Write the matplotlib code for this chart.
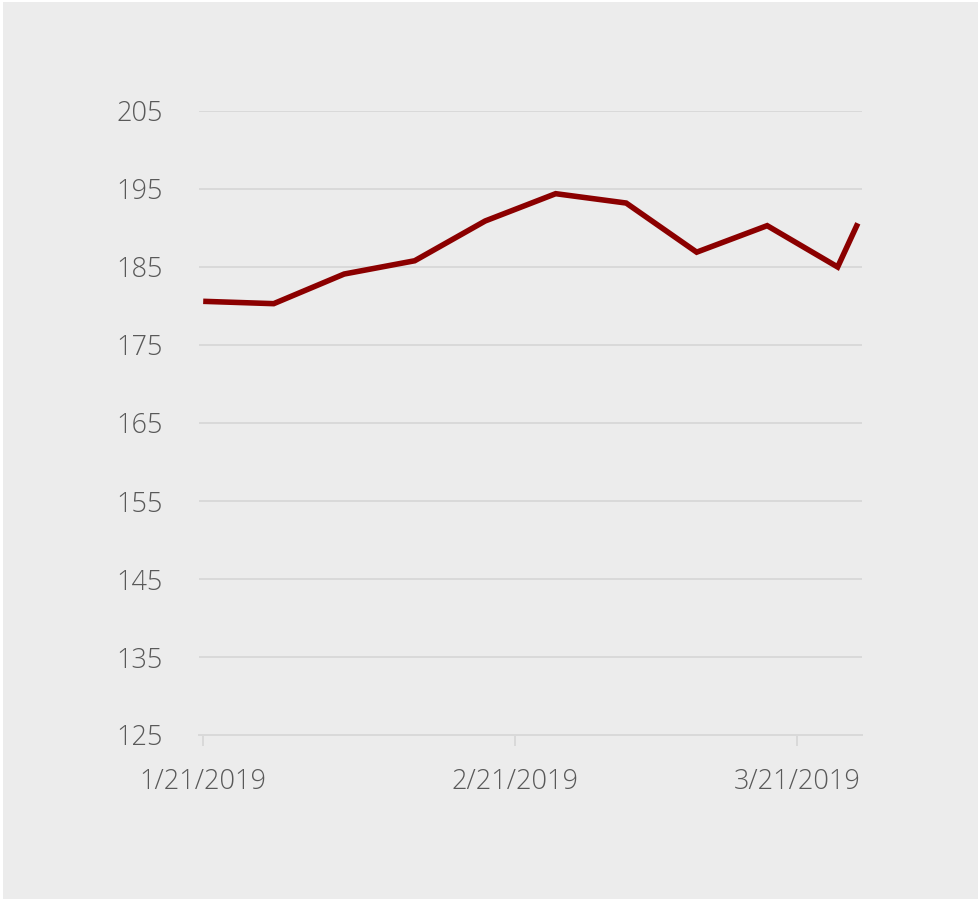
import matplotlib
matplotlib.use("Agg")
import matplotlib.pyplot as plt
import matplotlib.dates as mdates
from matplotlib.patches import Rectangle
import datetime as dt

# weekly values
dates = ["2019-01-21", "2019-01-28", "2019-02-04", "2019-02-11", "2019-02-18",
         "2019-02-25", "2019-03-04", "2019-03-11", "2019-03-18", "2019-03-25",
         "2019-03-27"]
values = [180.6, 180.3, 184.1, 185.8, 190.9, 194.4, 193.2, 186.9, 190.3, 185.0, 190.6]
y_ticks = [125, 135, 145, 155, 165, 175, 185, 195, 205]
x_ticks = ["2019-01-21", "2019-02-21", "2019-03-21"]

BG = "#ececec"
LINE = "#8b0000"
GRID = "#d9d9d9"
TEXT = "#595959"
FONT = "Open Sans"


def date_label(v, pos):
    d = mdates.num2date(v)
    return f"{d.month}/{d.day}/{d.year}"


x = [dt.datetime.strptime(d, "%Y-%m-%d") for d in dates]
xt = [dt.datetime.strptime(d, "%Y-%m-%d") for d in x_ticks]

fig = plt.figure(figsize=(9.79, 8.99), dpi=100, facecolor="white")
# grey panel, leaving a thin white strip on the left and top
fig.patches.append(Rectangle((3 / 979, 0), 1, 1 - 2 / 899, transform=fig.transFigure,
                             facecolor=BG, edgecolor="none", zorder=-10))

ax = fig.add_axes([199 / 979, 1 - 735 / 899, (862 - 199) / 979, (735 - 111) / 899])
ax.set_facecolor("none")

ax.plot(x, values, color=LINE, lw=4, solid_joinstyle="miter", solid_capstyle="butt", zorder=3)

ax.set_ylim(125, 205)
ax.set_yticks(y_ticks)
ax.set_xlim(x[0] - dt.timedelta(hours=10), x[-1] + dt.timedelta(hours=10))
ax.set_xticks(xt)
ax.xaxis.set_major_formatter(plt.FuncFormatter(date_label))

ax.grid(axis="y", color=GRID, lw=1.4)
ax.set_axisbelow(True)
for s in ["top", "right", "left"]:
    ax.spines[s].set_visible(False)
ax.spines["bottom"].set_color(GRID)
ax.spines["bottom"].set_linewidth(1.4)

ax.tick_params(axis="y", length=0, pad=26, labelsize=19.5, labelcolor=TEXT)
ax.tick_params(axis="x", length=8, width=1.4, color=GRID, pad=16, labelsize=19.5, labelcolor=TEXT)
for lab in ax.get_xticklabels() + ax.get_yticklabels():
    lab.set_fontfamily(FONT)
    lab.set_fontweight("light")

fig.savefig("out.png", dpi=100, facecolor=fig.get_facecolor())
